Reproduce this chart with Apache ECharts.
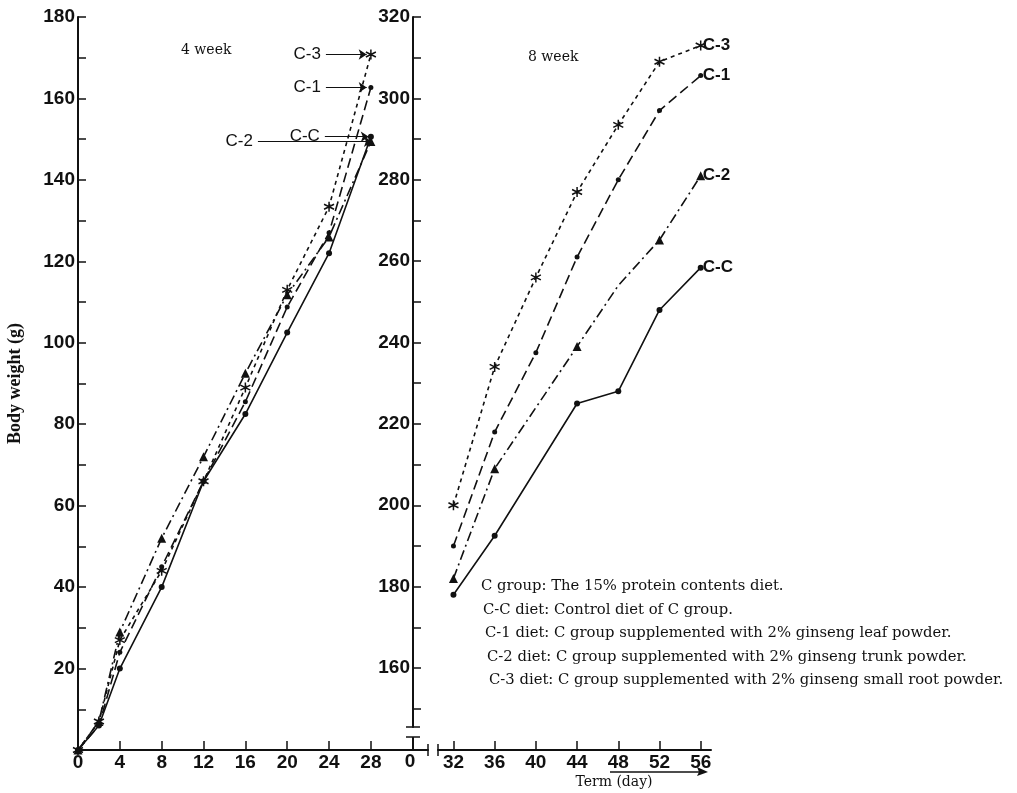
<!DOCTYPE html>
<html>
<head>
<meta charset="utf-8">
<title>Body weight</title>
<script src="https://cdn.jsdelivr.net/npm/echarts@6/dist/echarts.min.js"></script>
<style>
  html, body { margin: 0; padding: 0; background: #fff; }
  #chart { width: 1017px; height: 793px; }
</style>
</head>
<body>
<div id="chart"></div>
<script>
// group names
const groups = ['C-C', 'C-1', 'C-2', 'C-3']

// 4 week (day 0 - 28)
const days4 = [0, 2, 4, 8, 12, 16, 20, 24, 28]
const cc4 = [0, 6, 20, 40, 66, 82.5, 102.5, 122, 150.6]
const c14 = [0, 6, 24, 45, 66, 85.5, 108.8, 127, 162.7]
const c24 = [0, 7, 29, 52, 72, 92.5, 111.8, 126, 149.4]
const c34 = [0, 7, 27, 44, 66, 89, 113, 133.4, 170.8]

// 8 week (day 32 - 56), null = no point read there
const days8 = [32, 36, 40, 44, 48, 52, 56]
const cc8 = [178, 192.5, null, 225, 228, 248, 258.4]
const c18 = [190, 218, 237.5, 261, 280, 297, 305.6]
const c28 = [182, 209, null, 239, 254, 265.2, 281]
const c38 = [200, 234, 256, 277, 293.5, 309, 313]
const c2Unmarked = [48] // bend in the C-2 line, no marker drawn

// tick labels
const leftXTicks = [0, 4, 8, 12, 16, 20, 24, 28]
const rightXTicks = [32, 36, 40, 44, 48, 52, 56]
const leftYLabels = [20, 40, 60, 80, 100, 120, 140, 160, 180]
const leftYTicks = [0, 10, 20, 30, 40, 50, 60, 70, 80, 90, 100, 110, 120, 130, 140, 150, 160, 170, 180]
const rightYLabels = [160, 180, 200, 220, 240, 260, 280, 300, 320]
const rightYTicks = [150, 160, 170, 180, 190, 200, 210, 220, 230, 240, 250, 260, 270, 280, 290, 300, 310, 320]

const notes = [
  'C group: The 15% protein contents diet.',
  'C-C diet: Control diet of C group.',
  'C-1 diet: C group supplemented with 2% ginseng leaf powder.',
  'C-2 diet: C group supplemented with 2% ginseng trunk powder.',
  'C-3 diet: C group supplemented with 2% ginseng small root powder.'
]

const week4 = { 'C-C': cc4, 'C-1': c14, 'C-2': c24, 'C-3': c34 }
const week8 = { 'C-C': cc8, 'C-1': c18, 'C-2': c28, 'C-3': c38 }

// arrow labels on the 4 week panel: where the arrow starts and where its tip is (day)
const arrowFrom = { 'C-C': 23.6, 'C-1': 23.7, 'C-2': 17.2, 'C-3': 23.7 }
const arrowTo = { 'C-C': 27.8, 'C-1': 27.6, 'C-2': 28.1, 'C-3': 27.6 }

const ink = '#111'
const starPath = 'path://M0,-5L0,5M-4.33,-2.5L4.33,2.5M-4.33,2.5L4.33,-2.5'

const lineType = {
  'C-C': 'solid',
  'C-1': [10, 5],
  'C-2': [10, 4, 2, 4],
  'C-3': [4, 4]
}

function markerStyle (name) {
  if (name === 'C-3') {
    return { symbol: starPath, symbolSize: 10, itemStyle: { color: 'none', borderColor: ink, borderWidth: 1.5 } }
  }
  if (name === 'C-2') {
    return { symbol: 'triangle', symbolSize: 9, itemStyle: { color: ink } }
  }
  return { symbol: 'circle', symbolSize: name === 'C-C' ? 6 : 5, itemStyle: { color: ink } }
}

const tickFont = { color: ink, fontFamily: 'Liberation Sans', fontWeight: 'bold', fontSize: 19 }

const series = []
groups.forEach(name => {
  const vals = week4[name]
  const last = vals[vals.length - 1]
  series.push(Object.assign({
    name: name,
    type: 'line',
    xAxisIndex: 0,
    yAxisIndex: 0,
    data: days4.map((d, i) => [d, vals[i]]),
    lineStyle: { color: ink, width: 1.6, type: lineType[name] },
    markLine: {
      silent: true,
      symbol: ['none', 'arrow'],
      symbolSize: 8,
      lineStyle: { color: ink, width: 1.2, type: 'solid' },
      label: {
        show: true,
        position: 'start',
        distance: 5,
        formatter: name,
        color: ink,
        fontFamily: 'Liberation Sans',
        fontSize: 17
      },
      data: [[{ coord: [arrowFrom[name], last] }, { coord: [arrowTo[name], last] }]]
    }
  }, markerStyle(name)))

  const v8 = week8[name]
  const data8 = []
  days8.forEach((d, i) => {
    if (v8[i] == null) return
    if (name === 'C-2' && c2Unmarked.indexOf(d) >= 0) {
      data8.push({ value: [d, v8[i]], symbol: 'none' })
    } else {
      data8.push([d, v8[i]])
    }
  })
  series.push(Object.assign({
    name: name,
    type: 'line',
    xAxisIndex: 1,
    yAxisIndex: 1,
    data: data8,
    lineStyle: { color: ink, width: 1.6, type: lineType[name] },
    endLabel: {
      show: true,
      formatter: name,
      distance: 2,
      color: ink,
      fontFamily: 'Liberation Sans',
      fontWeight: 'bold',
      fontSize: 17
    }
  }, markerStyle(name)))
})

const noteText = notes.map((t, i) => ({
  type: 'text',
  left: 481 + i * 2,
  top: 579 + i * 23.5,
  style: { text: t, fill: ink, font: '14.8px "DejaVu Serif"' }
}))

const myChart = echarts.init(document.getElementById('chart'))

const option = {
  backgroundColor: '#fff',
  animation: false,
  grid: [
    { left: 78, top: 17, width: 350, height: 733, outerBoundsMode: 'none', containLabel: false },
    { left: 438, top: 17, width: 273, height: 710, outerBoundsMode: 'none', containLabel: false }
  ],
  xAxis: [
    {
      type: 'value',
      gridIndex: 0,
      min: 0,
      max: 33.46,
      splitLine: { show: false },
      axisLine: { lineStyle: { color: ink, width: 2 } },
      axisTick: { inside: true, length: 9, customValues: leftXTicks, lineStyle: { color: ink, width: 1.5 } },
      axisLabel: Object.assign({ margin: 3, customValues: leftXTicks }, tickFont)
    },
    {
      type: 'value',
      gridIndex: 1,
      min: 30.5,
      max: 57,
      offset: 23,
      splitLine: { show: false },
      axisLine: { lineStyle: { color: ink, width: 2 } },
      axisTick: { inside: true, length: 9, customValues: rightXTicks, lineStyle: { color: ink, width: 1.5 } },
      axisLabel: Object.assign({ margin: 3, customValues: rightXTicks }, tickFont)
    }
  ],
  yAxis: [
    {
      type: 'value',
      gridIndex: 0,
      min: 0,
      max: 180,
      name: 'Body weight (g)',
      nameLocation: 'middle',
      nameGap: 54,
      nameTextStyle: { color: ink, fontFamily: 'Liberation Serif', fontWeight: 'bold', fontSize: 18 },
      splitLine: { show: false },
      axisLine: { show: true, lineStyle: { color: ink, width: 2 } },
      axisTick: { show: true, inside: true, length: 8, customValues: leftYTicks, lineStyle: { color: ink, width: 1.5 } },
      axisLabel: Object.assign({ margin: 3, customValues: leftYLabels }, tickFont)
    },
    {
      type: 'value',
      gridIndex: 1,
      min: 145.5,
      max: 320,
      offset: 25,
      splitLine: { show: false },
      axisLine: { show: true, lineStyle: { color: ink, width: 2 } },
      axisTick: { show: true, inside: true, length: 8, customValues: rightYTicks, lineStyle: { color: ink, width: 1.5 } },
      axisLabel: Object.assign({ margin: 3, customValues: rightYLabels }, tickFont)
    }
  ],
  graphic: [
    { type: 'text', left: 181, top: 43, style: { text: '4 week', fill: ink, font: '14px "DejaVu Serif"' } },
    { type: 'text', left: 528, top: 50, style: { text: '8 week', fill: ink, font: '14px "DejaVu Serif"' } },
    // broken axes
    { type: 'line', shape: { x1: 428, y1: 744, x2: 428, y2: 756 }, style: { stroke: ink, lineWidth: 1.5 } },
    { type: 'line', shape: { x1: 438, y1: 744, x2: 438, y2: 756 }, style: { stroke: ink, lineWidth: 1.5 } },
    { type: 'line', shape: { x1: 406, y1: 727, x2: 420, y2: 727 }, style: { stroke: ink, lineWidth: 1.5 } },
    { type: 'line', shape: { x1: 406, y1: 737, x2: 420, y2: 737 }, style: { stroke: ink, lineWidth: 1.5 } },
    { type: 'line', shape: { x1: 413, y1: 737, x2: 413, y2: 750 }, style: { stroke: ink, lineWidth: 2 } },
    { type: 'text', x: 410, y: 752, style: { text: '0', fill: ink, font: 'bold 19px "Liberation Sans"', align: 'center', verticalAlign: 'top' } },
    // x axis name with arrow
    { type: 'line', shape: { x1: 610, y1: 772, x2: 704, y2: 772 }, style: { stroke: ink, lineWidth: 1.5 } },
    { type: 'polygon', shape: { points: [[708, 772], [697, 767], [699, 772], [697, 776]] }, style: { fill: ink } },
    { type: 'text', x: 614, y: 782, style: { text: 'Term (day)', fill: ink, font: '14px "DejaVu Serif"', align: 'center', verticalAlign: 'middle' } }
  ].concat(noteText),
  series: series
}

myChart.setOption(option)
</script>
</body>
</html>
